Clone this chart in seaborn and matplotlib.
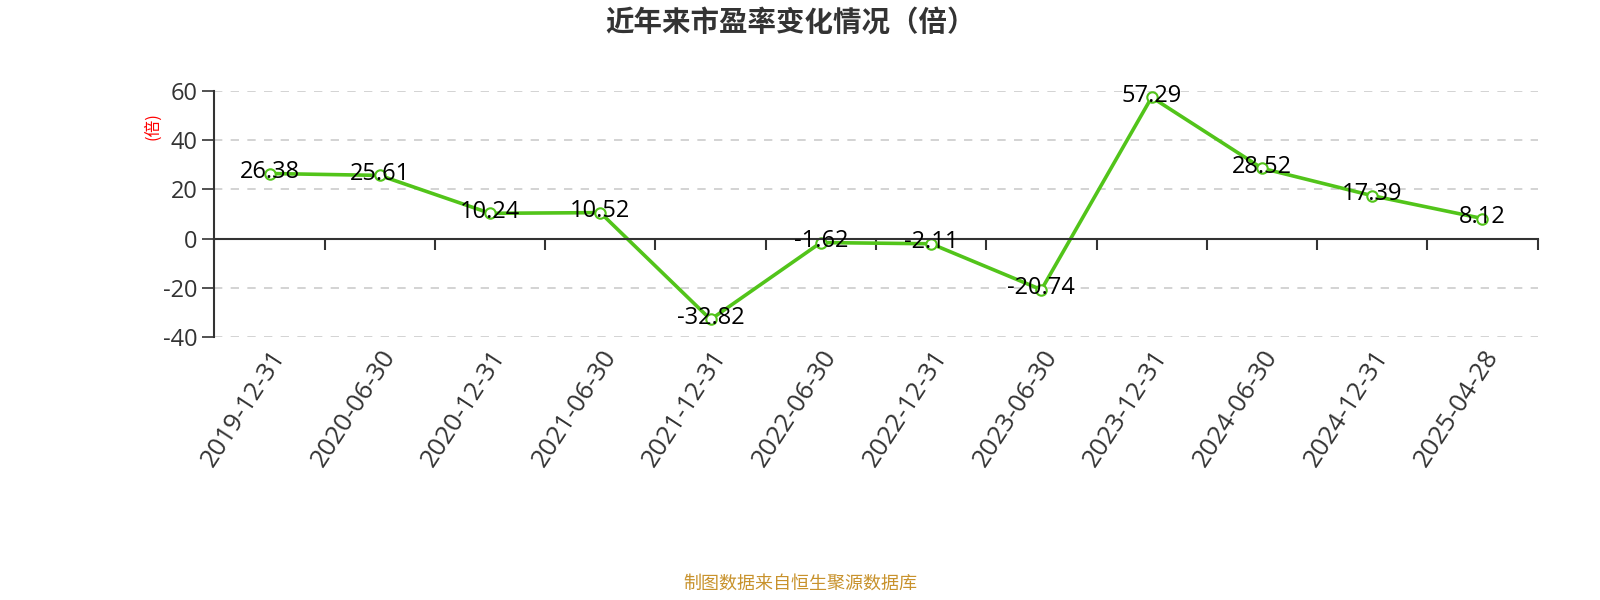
import pandas as pd
import seaborn as sns
import matplotlib.pyplot as plt
from matplotlib.ticker import FixedLocator

# chart data
dates = ["2019-12-31", "2020-06-30", "2020-12-31", "2021-06-30", "2021-12-31", "2022-06-30",
         "2022-12-31", "2023-06-30", "2023-12-31", "2024-06-30", "2024-12-31", "2025-04-28"]
pe_values = [26.38, 25.61, 10.24, 10.52, -32.82, -1.62, -2.11, -20.74, 57.29, 28.52, 17.39, 8.12]
y_ticks = [-40, -20, 0, 20, 40, 60]

df = pd.DataFrame({"date": dates, "pe": pe_values})

sns.set_style("white")
plt.rcParams['font.family'] = ['Open Sans', 'Noto Sans CJK SC', 'DejaVu Sans']
plt.rcParams['axes.unicode_minus'] = False
cjk = ['Noto Sans CJK SC', 'DejaVu Sans']

fig = plt.figure(figsize=(16, 6), dpi=100)
ax = fig.add_axes([0.134, 0.438, 0.827, 0.411])

green = "#52C41A"
sns.lineplot(data=df, x="date", y="pe", sort=False, ax=ax, color=green, linewidth=2.6,
             marker="o", markersize=7.5, markerfacecolor="white", markeredgecolor=green,
             markeredgewidth=1.5)

# value labels
for i, v in enumerate(pe_values):
    ax.annotate(f"{v:.2f}", (i, v), xytext=(0, 1), textcoords="offset points",
                ha="center", va="center", fontsize=17, color="black")

ax.set_xlim(-0.5, len(dates) - 0.5)
ax.set_ylim(-40, 60)
ax.set_yticks(y_ticks)
ax.set_yticklabels([str(t) for t in y_ticks])
ax.tick_params(axis="y", left=True, labelsize=17, labelcolor="#333333", color="#333333",
               length=9, width=1.2, direction="out", pad=3)

# dashed grid
for t in y_ticks:
    if t != 0:
        ax.axhline(t, color="#cccccc", linestyle=(0, (5, 5)), linewidth=1.2, zorder=0)

# x axis sits on zero, labels at the bottom
ax.spines["bottom"].set_position(("data", 0))
ax.spines["bottom"].set_color("#333333")
ax.spines["bottom"].set_linewidth(1.5)
ax.spines["left"].set_color("#333333")
ax.spines["left"].set_linewidth(1.5)
ax.spines["top"].set_visible(False)
ax.spines["right"].set_visible(False)

ax.set_xticks(range(len(dates)))
ax.set_xticklabels(dates, rotation=57, ha="right", rotation_mode="anchor")
ax.xaxis.set_minor_locator(FixedLocator([i - 0.5 for i in range(len(dates) + 1)]))
ax.tick_params(axis="x", which="major", bottom=True, length=0, labelsize=18.5,
               labelcolor="#333333", pad=77)
ax.tick_params(axis="x", which="minor", bottom=True, length=8, width=1.5, color="#333333",
               direction="out")

ax.set_xlabel("")
ax.set_ylabel("")

fig.text(0.0955, 0.79, "(倍)", color="red", fontsize=12, rotation=90, ha="center", va="center",
         family=cjk)
fig.text(0.494, 0.962, "近年来市盈率变化情况（倍）", fontsize=20.5, fontweight="bold",
         color="#333333", ha="center", va="center", family=cjk)
fig.text(0.5, 0.012, "制图数据来自恒生聚源数据库", fontsize=13, color="#C8922C",
         ha="center", va="bottom", family=cjk)

fig.savefig("out.png", dpi=100)
